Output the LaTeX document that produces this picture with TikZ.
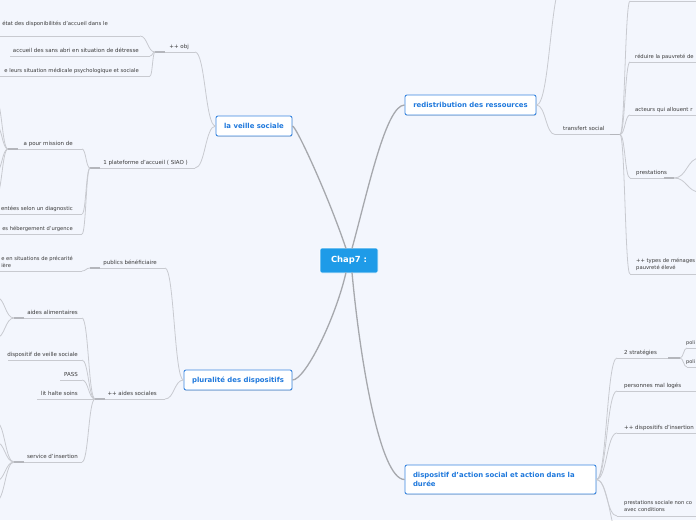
\documentclass[tikz,border=0pt]{standalone}
\usepackage{fontspec}
\setmainfont{DejaVu Sans}
\usetikzlibrary{calc,shadows}
\definecolor{bg}{HTML}{F3F6FD}
\definecolor{topicblue}{HTML}{1E78DC}
\definecolor{topicborder}{HTML}{3B87E0}
\definecolor{centralblue}{HTML}{1E9BE8}
\definecolor{txt}{HTML}{3A3A3A}
\definecolor{sublinecol}{HTML}{C8CAD0}
\definecolor{mainlinecol}{HTML}{A6A8AD}
\definecolor{stubcol}{HTML}{B4B6BC}
\tikzset{
  central/.style={fill=centralblue, draw=white, line width=0.6pt, rounded corners=2pt, text=white,
    font=\fontsize{8.4}{9}\selectfont\bfseries, minimum width=58pt, minimum height=25pt, inner sep=0pt},
  topic/.style={fill=white, draw=topicborder, line width=0.9pt, rounded corners=2pt, text=topicblue,
    font=\fontsize{6.9}{9}\selectfont\bfseries, minimum height=20pt, inner sep=0pt,
    drop shadow={shadow xshift=0.4pt, shadow yshift=-0.8pt, opacity=0.25}},
  subtxt/.style={text=txt, font=\fontsize{5.5}{7}\selectfont, inner sep=0pt},
  fs/.style={font=\fontsize{#1}{7}\selectfont},
  uline/.style={draw=sublinecol, line width=0.8pt},
  stubline/.style={draw=stubcol, line width=1.4pt},
  mainconn/.style={draw=mainlinecol, line width=1.3pt},
}
\newcommand\sconn[2]{\draw[uline] let \p1=(#1), \p2=(#2) in (\p1) .. controls ({(\x1+\x2)/2},\y1) and ({(\x1+\x2)/2},\y2) .. (\p2);}
\newcommand\lsub[7][]{%
  \node[subtxt, #1, anchor=base east] (#2) at (#4,#5-4) {#3};
  \coordinate (#2L) at (#6,#5); \coordinate (#2R) at (#7,#5);
  \draw[uline] (#2L) -- (#2R);}
\newcommand\rsub[7][]{%
  \node[subtxt, #1, anchor=base west] (#2) at (#4,#5-4) {#3};
  \coordinate (#2L) at (#6,#5); \coordinate (#2R) at (#7,#5);
  \draw[uline] (#2L) -- (#2R);}
\begin{document}
\begin{tikzpicture}[x=1pt,y=-1pt]
\useasboundingbox (0,0) rectangle (696,520);
\fill[bg] (0,0) rectangle (696,520);
\clip (0,0) rectangle (696,520);

% ---- central and topics
\node[central] (c) at (349,260.5) {Chap7 :};
\node[topic, minimum width=76pt] (veille) at (254,126) {la veille sociale};
\node[topic, minimum width=108pt] (plur) at (238,380) {pluralité des dispositifs};
\node[topic, minimum width=131pt] (redis) at (470.5,105) {redistribution des ressources};
\node[topic, text width=175pt, align=left, inner xsep=8pt, minimum height=29pt] (disp) at (500.5,479.5)
  {dispositif d'action social et action dans la\\durée};

\coordinate (cNW) at (346,248.5); \coordinate (cNE) at (352,248.5);
\coordinate (cSW) at (346,272.5); \coordinate (cSE) at (352,272.5);
\draw[mainconn] (cNW) .. controls (328,195) and (296,126) .. (veille.east);
\draw[mainconn] (cNE) .. controls (368,190) and (386,105) .. (redis.west);
\draw[mainconn] (cSW) .. controls (335,320) and (305,380) .. (plur.east);
\draw[mainconn] (cSE) .. controls (360,360) and (380,479.5) .. (disp.west);

% ---- la veille sociale
\lsub{obj}{++ obj}{189}{52}{155}{195}
\draw[stubline] (155,52) -- (165,52);
\sconn{veille.west}{objR}
\node[subtxt, fs=5.35, anchor=base east] (etat) at (108,25) {état des disponibilités d'accueil dans le};
\coordinate (etatL) at (-5,36); \coordinate (etatR) at (140,36);
\draw[uline] (etatL) -- (etatR);
\lsub{acc}{accueil des sans abri en situation de détresse}{139}{56}{10}{150}
\lsub[fs=5.25]{leurs}{e leurs situation médicale psychologique et sociale}{139}{76}{-5}{150}
\sconn{objL}{etatR}\sconn{objL}{accR}\sconn{objL}{leursR}

\lsub{siao}{1 plateforme d'accueil ( SIAO )}{188}{168}{90}{195}
\draw[stubline] (90,168) -- (100,168);
\sconn{veille.west}{siaoR}
\lsub{miss}{a pour mission de}{73}{149}{8}{82}
\draw[stubline] (8,149) -- (18,149);
\lsub[fs=5.35]{diag}{entées selon un diagnostic}{73}{214}{-5}{82}
\lsub[fs=5.2]{urg}{es hébergement d'urgence}{73}{234}{-5}{82}
\sconn{siaoL}{missR}\sconn{siaoL}{diagR}\sconn{siaoL}{urgR}
\coordinate (m1) at (-4,100); \coordinate (m2) at (-4,125);
\coordinate (m3) at (-4,172); \coordinate (m4) at (-4,196);
\sconn{missL}{m1}\sconn{missL}{m2}\sconn{missL}{m3}\sconn{missL}{m4}

% ---- pluralité des dispositifs
\lsub{pub}{publics bénéficiaire}{157}{268}{90}{165}
\draw[stubline] (90,268) -- (100,268);
\sconn{plur.west}{pubR}
\node[subtxt, fs=5.2, anchor=east, align=left] (prec) at (73,261.5) {e en situations de précarité\\ière};
\coordinate (precL) at (-5,271); \coordinate (precR) at (82,271);
\draw[uline] (precL) -- (precR);
\sconn{pubL}{precR}

\lsub{aides}{++ aides sociales}{157}{399}{95}{165}
\draw[stubline] (95,399) -- (105,399);
\sconn{plur.west}{aidesR}
\lsub{alim}{aides alimentaires}{78}{318}{14}{82}
\draw[stubline] (14,318) -- (24,318);
\lsub{dveil}{dispositif de veille sociale}{78}{360}{8}{82}
\lsub{pass}{PASS}{78}{380}{60}{82}
\lsub{halte}{lit halte soins}{78}{399}{37}{95}
\lsub{insr}{service d'insertion}{78}{462}{14}{82}
\draw[stubline] (14,462) -- (24,462);
\sconn{aidesL}{alimR}\sconn{aidesL}{dveilR}\sconn{aidesL}{passR}\sconn{aidesL}{insrR}
\coordinate (a1) at (-4,297); \coordinate (a2) at (-4,338);
\sconn{alimL}{a1}\sconn{alimL}{a2}
\coordinate (s1) at (-4,422); \coordinate (s2) at (-4,442);
\coordinate (s3) at (-4,481); \coordinate (s4) at (-4,501);
\sconn{insrL}{s1}\sconn{insrL}{s2}\sconn{insrL}{s3}\sconn{insrL}{s4}

% ---- redistribution des ressources
\coordinate (rtop) at (564,-20);
\sconn{redis.east}{rtop}
\rsub{trans}{transfert social}{563}{134.5}{555}{620}
\draw[stubline] (610,134.5) -- (620,134.5);
\sconn{redis.east}{transL}
\coordinate (t0L) at (630,1); \coordinate (t0R) at (700,1);
\draw[uline] (t0L) -- (t0R);
\rsub[fs=5.25]{red}{réduire la pauvreté de}{635}{62}{630}{700}
\rsub[fs=5.35]{act}{acteurs qui allouent r}{635}{115}{630}{700}
\rsub{prest}{prestations}{636}{178}{630}{674}
\draw[stubline] (664,178) -- (674,178);
\node[subtxt, fs=5.25, anchor=west, align=left] (types) at (636,264.5) {++ types de ménages\\pauvreté élevé};
\coordinate (typesL) at (630,274); \coordinate (typesR) at (700,274);
\draw[uline] (typesL) -- (typesR);
\sconn{transR}{t0L}\sconn{transR}{redL}\sconn{transR}{actL}\sconn{transR}{prestL}\sconn{transR}{typesL}
\coordinate (p1) at (700,158); \coordinate (p2) at (700,192);
\sconn{prestR}{p1}\sconn{prestR}{p2}

% ---- dispositif d'action social
\rsub{strat}{2 stratégies}{624}{358}{617}{680}
\draw[stubline] (668,358) -- (680,358);
\rsub[fs=5]{poli}{poli}{686}{348}{687}{700}
\rsub[fs=5]{polii}{poli}{686}{367}{687}{700}
\sconn{stratR}{poliL}\sconn{stratR}{poliiL}
\rsub{mal}{personnes mal logés}{624}{391}{617}{700}
\rsub{dins}{++ dispositifs d'insertion}{624}{433}{617}{700}
\node[subtxt, fs=5.2, anchor=west, align=left] (nonco) at (624,506.5) {prestations sociale non co\\avec conditions};
\coordinate (noncoL) at (617,516); \coordinate (noncoR) at (700,516);
\draw[uline] (noncoL) -- (noncoR);
\coordinate (dbot) at (624,545);
\sconn{disp.east}{stratL}\sconn{disp.east}{malL}\sconn{disp.east}{dinsL}\sconn{disp.east}{noncoL}\sconn{disp.east}{dbot}
\end{tikzpicture}
\end{document}
